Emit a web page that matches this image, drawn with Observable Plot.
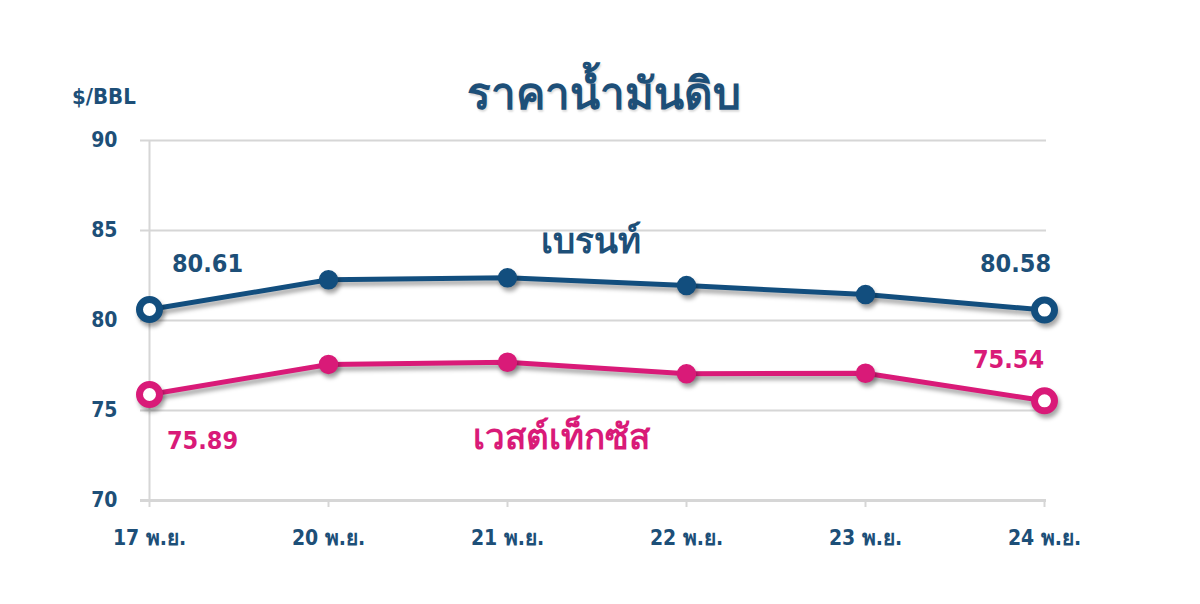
<!DOCTYPE html>
<html>
<head>
<meta charset="utf-8">
<script src="https://cdn.jsdelivr.net/npm/d3@7"></script>
<script src="https://cdn.jsdelivr.net/npm/@observablehq/plot@0.6"></script>
<style>
  html, body { margin: 0; padding: 0; background: #fff; }
  #wrap { position: relative; width: 1200px; height: 604px; overflow: hidden; }
  #title { position: absolute; left: 0; width: 1208px; top: 58px; text-align: center;
    font-family: "Noto Sans", "DejaVu Sans", sans-serif; font-weight: bold; font-size: 44px; color: #1d4f78;
    text-shadow: 1px 2px 2px rgba(0,0,0,0.15); }
  #unit { position: absolute; left: 72px; top: 84px; font-family: "DejaVu Sans Condensed", "DejaVu Sans", sans-serif;
    font-weight: bold; font-size: 22px; color: #1d4f78; }
  .line-shadow { filter: drop-shadow(2px 4px 2px rgba(0,0,0,0.35)); }
</style>
</head>
<body>
<div id="wrap">
  <div id="title">ราคาน้ำมันดิบ</div>
  <div id="unit">$/BBL</div>
</div>
<script>
const dates = ["17 พ.ย.", "20 พ.ย.", "21 พ.ย.", "22 พ.ย.", "23 พ.ย.", "24 พ.ย."];
const brent = [80.61, 82.26, 82.37, 81.94, 81.44, 80.58];
const wti = [75.89, 77.56, 77.68, 77.04, 77.07, 75.54];
const seriesNames = ["เบรนท์", "เวสต์เท็กซัส"];
const yTicks = [70, 75, 80, 85, 90];

const navy = "#124e7e";
const pink = "#d91a78";
const textNavy = "#1d4f78";

const brentData = dates.map((d, i) => ({date: d, value: brent[i]}));
const wtiData = dates.map((d, i) => ({date: d, value: wti[i]}));
const isEnd = (d, i) => i === 0 || i === dates.length - 1;

const font = `"DejaVu Sans Condensed", "DejaVu Sans", sans-serif`;

const plot = Plot.plot({
  width: 1200,
  height: 604,
  marginLeft: 147,
  marginRight: 154,
  marginTop: 140,
  marginBottom: 104,
  style: {fontFamily: font, background: "transparent", overflow: "visible"},
  x: {type: "point", domain: dates, padding: 0},
  y: {type: "linear", domain: [70, 90]},
  marks: [
    Plot.ruleY(yTicks.filter(t => t > 70), {stroke: "#d6d6d6", strokeWidth: 2, insetLeft: -7}),
    Plot.ruleX([dates[0]], {stroke: "#d6d6d6", strokeWidth: 2, y1: 70, y2: 90}),
    Plot.ruleY([70], {stroke: "#d6d6d6", strokeWidth: 3, insetLeft: -7}),
    Plot.axisY(yTicks, {tickSize: 0, tickPadding: 30, fontSize: 21, fontWeight: "bold", fill: textNavy, label: null}),
    Plot.axisX(dates, {tickSize: 7, tickPadding: 23, fontSize: 21, fontWeight: "bold", fill: textNavy, stroke: "#d6d6d6", strokeWidth: 2, label: null}),
    Plot.line(brentData, {x: "date", y: "value", stroke: navy, strokeWidth: 5, className: "line-shadow"}),
    Plot.line(wtiData, {x: "date", y: "value", stroke: pink, strokeWidth: 5, className: "line-shadow"}),
    Plot.dot(brentData.filter((d, i) => !isEnd(d, i)), {x: "date", y: "value", r: 9, fill: navy, stroke: navy, className: "line-shadow"}),
    Plot.dot(wtiData.filter((d, i) => !isEnd(d, i)), {x: "date", y: "value", r: 9, fill: pink, stroke: pink, className: "line-shadow"}),
    Plot.dot(brentData.filter(isEnd), {x: "date", y: "value", r: 10, fill: "white", stroke: navy, strokeWidth: 7, className: "line-shadow"}),
    Plot.dot(wtiData.filter(isEnd), {x: "date", y: "value", r: 10, fill: "white", stroke: pink, strokeWidth: 7, className: "line-shadow"}),
    // value labels
    Plot.text([brentData[0]], {x: "date", y: "value", text: d => d.value.toFixed(2), dx: 58, dy: -46, fill: textNavy, fontSize: 25, fontWeight: "bold"}),
    Plot.text([brentData[brentData.length - 1]], {x: "date", y: "value", text: d => d.value.toFixed(2), dx: -29, dy: -46, fill: textNavy, fontSize: 25, fontWeight: "bold"}),
    Plot.text([wtiData[0]], {x: "date", y: "value", text: d => d.value.toFixed(2), dx: 53, dy: 47, fill: pink, fontSize: 25, fontWeight: "bold"}),
    Plot.text([wtiData[wtiData.length - 1]], {x: "date", y: "value", text: d => d.value.toFixed(2), dx: -36, dy: -41, fill: pink, fontSize: 25, fontWeight: "bold"}),
    // series labels
    Plot.text([brentData[2]], {x: "date", y: "value", text: () => seriesNames[0], dx: 83, dy: -36, fill: textNavy, fontSize: 35, fontWeight: "bold", fontFamily: `"Noto Sans", sans-serif`}),
    Plot.text([wtiData[2]], {x: "date", y: "value", text: () => seriesNames[1], dx: 54, dy: 76, fill: pink, fontSize: 35, fontWeight: "bold", fontFamily: `"Noto Sans", sans-serif`})
  ]
});
document.getElementById("wrap").appendChild(plot);
plot.style.position = "absolute";
plot.style.left = "0";
plot.style.top = "0";
</script>
</body>
</html>
